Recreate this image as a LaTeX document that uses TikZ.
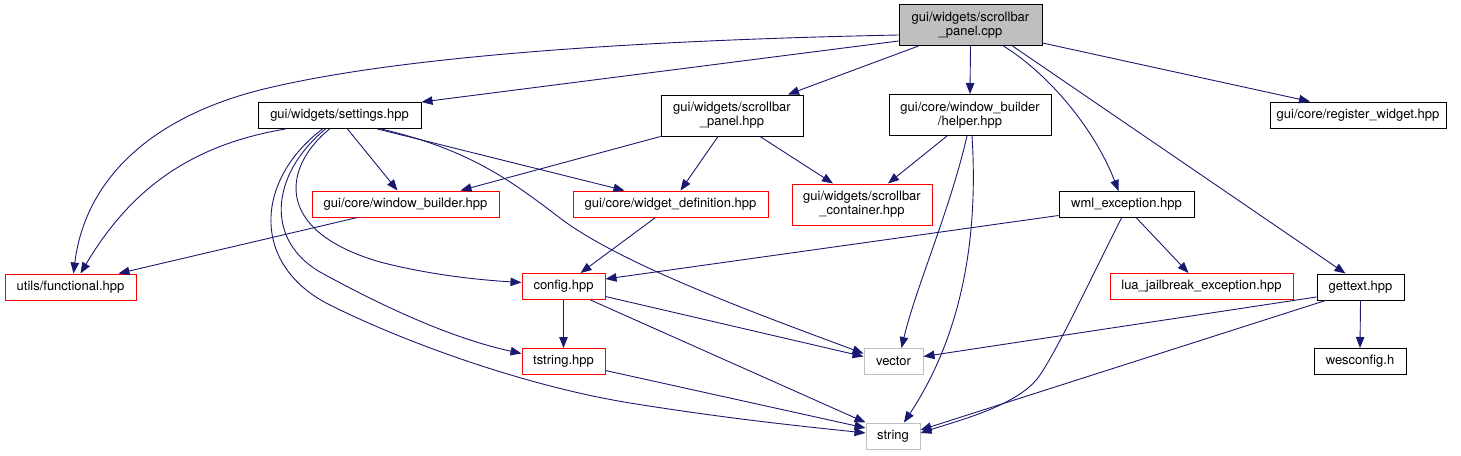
\documentclass[tikz,border=0pt]{standalone}
\usepackage{fontspec}
\setmainfont{TeX Gyre Heros}
\usetikzlibrary{arrows.meta}
\definecolor{midnight}{RGB}{25,25,112}
\definecolor{grey75}{RGB}{191,191,191}
\newcommand{\boxfont}{\fontsize{13}{14}\selectfont}

\begin{document}
\begin{tikzpicture}[
            x = 1pt,
            y = -1pt,
            file/.style = {
                draw,
                rectangle,
                line width = 1pt,
                minimum width = #1,
                minimum height = 26pt,
                inner sep = 0pt,
                align = center,
                font = \boxfont
            },
            file/.default = 80pt,
            tall/.style = {minimum height = 41pt},
            trunc/.style = {draw = red},
            undoc/.style = {draw = grey75},
            dep/.style = {
                draw = midnight,
                line width = 0.9pt,
                -{Triangle[length = 11pt, width = 8.5pt]}
            }
            ]
            \useasboundingbox (0,0) rectangle (1461,455);

            \node[file=143pt, tall, fill=grey75] (root) at (970.5,25) {gui/widgets/scrollbar\\\_panel.cpp};
            \node[file=163pt] (settings) at (339.5,115.5) {gui/widgets/settings.hpp};
            \node[file=142pt, tall] (sbpanel) at (732,115.5) {gui/widgets/scrollbar\\\_panel.hpp};
            \node[file=162pt, tall] (helper) at (970,115) {gui/core/window\_builder\\/helper.hpp};
            \node[file=176pt] (register) at (1358,115) {gui/core/register\_widget.hpp};
            \node[file=187pt, trunc] (wb) at (405.5,204) {gui/core/window\_builder.hpp};
            \node[file=195pt, trunc] (wdef) at (670.5,204) {gui/core/widget\_definition.hpp};
            \node[file=140pt, tall, trunc] (sbcont) at (862,204.5) {gui/widgets/scrollbar\\\_container.hpp};
            \node[file=135pt] (wml) at (1126.5,204.5) {wml\_exception.hpp};
            \node[file=131pt, trunc] (functional) at (70.5,287) {utils/functional.hpp};
            \node[file=83pt, trunc] (config) at (563.5,286.5) {config.hpp};
            \node[file=183pt, trunc] (lua) at (1201.5,286.5) {lua\_jailbreak\_exception.hpp};
            \node[file=87pt] (gettext) at (1360.5,287) {gettext.hpp};
            \node[file=83pt, trunc] (tstring) at (563.5,361.5) {tstring.hpp};
            \node[file=59pt, undoc] (vector) at (893.5,361.5) {vector};
            \node[file=92pt] (wesconfig) at (1360,361.5) {wesconfig.h};
            \node[file=54pt, undoc] (string) at (893,436) {string};

            % scrollbar_panel.cpp
            \draw[dep] ([yshift=-10pt]root.west) .. controls (650,40) and (400,55) .. (260,90)
                .. controls (150,118) and (85,180) .. ([xshift=3pt]functional.north);
            \draw[dep] ([yshift=-16pt]root.west) -- (settings.north east);
            \draw[dep] ([xshift=-52pt]root.south) -- ([xshift=56pt]sbpanel.north);
            \draw[dep] (root.south) -- (helper.north);
            \draw[dep] ([xshift=33pt]root.south) .. controls (1050,75) and (1095,130) .. ([xshift=-8pt]wml.north);
            \draw[dep] ([xshift=42pt]root.south) -- ([xshift=-15pt]gettext.north);
            \draw[dep] ([yshift=-18pt]root.east) -- ([xshift=-48pt]register.north);

            % settings.hpp
            \draw[dep] ([xshift=-54pt]settings.south) .. controls (190,145) and (130,190) .. ([xshift=10pt]functional.north);
            \draw[dep] ([xshift=8pt]settings.south) -- ([xshift=-8pt]wb.north);
            \draw[dep] ([xshift=38pt]settings.south) -- ([xshift=-46pt]wdef.north);
            \draw[dep] ([xshift=42pt]settings.south) .. controls (470,150) and (510,180) .. (560,218)
                .. controls (620,264) and (760,315) .. ([yshift=8pt]vector.west);
            \draw[dep] ([xshift=-10pt]settings.south) .. controls (285,165) and (270,230) .. (380,262)
                .. controls (430,275) and (480,280) .. ([yshift=4pt]config.west);
            \draw[dep] ([xshift=-14pt]settings.south) .. controls (270,175) and (265,240) .. (320,272)
                .. controls (380,305) and (450,338) .. ([yshift=8pt]tstring.west);
            \draw[dep] ([xshift=-17pt]settings.south) .. controls (255,180) and (250,265) .. (330,305)
                .. controls (400,340) and (520,385) .. (630,403)
                .. controls (730,419) and (800,426) .. ([yshift=3pt]string.west);

            \draw[dep] (sbpanel.south west) -- ([xshift=55pt]wb.north);
            \draw[dep] ([xshift=-14pt]sbpanel.south) -- ([xshift=10pt]wdef.north);
            \draw[dep] ([xshift=28pt]sbpanel.south) -- ([xshift=-29pt]sbcont.north);

            \draw[dep] ([xshift=-23pt]helper.south) -- ([xshift=26pt]sbcont.north);
            \draw[dep] ([xshift=-3pt]helper.south) .. controls (950,210) and (915,290) .. ([xshift=8pt]vector.north);
            \draw[dep] ([xshift=2pt]helper.south) .. controls (978,230) and (965,330) .. ([xshift=11pt]string.north);

            \draw[dep] ([xshift=-48pt]wb.south) -- ([xshift=48pt]functional.north);
            \draw[dep] ([xshift=-15pt]wdef.south) -- ([xshift=17pt]config.north);

            \draw[dep] ([yshift=-11pt]wml.west) -- ([yshift=7.5pt]config.east);
            \draw[dep] ([xshift=10pt]wml.south) -- ([xshift=-13pt]lua.north);
            \draw[dep] ([xshift=-5pt]wml.south) .. controls (1090,280) and (1060,345) .. (1040,375)
                .. controls (1020,405) and (960,420) .. ([yshift=3pt]string.east);

            \draw[dep] (config.south) -- (tstring.north);
            \draw[dep] ([yshift=-10pt]config.east) -- ([yshift=5pt]vector.west);
            \draw[dep] ([xshift=27pt]config.south) -- (string.north west);
            \draw[dep] ([yshift=-9pt]tstring.east) -- ([yshift=8pt]string.west);

            \draw[dep] ([yshift=-10pt]gettext.west) -- ([yshift=5pt]vector.east);
            \draw[dep] ([xshift=-35pt]gettext.south) -- ([yshift=6pt]string.east);
            \draw[dep] (gettext.south) -- (wesconfig.north);
        \end{tikzpicture}
\end{document}
